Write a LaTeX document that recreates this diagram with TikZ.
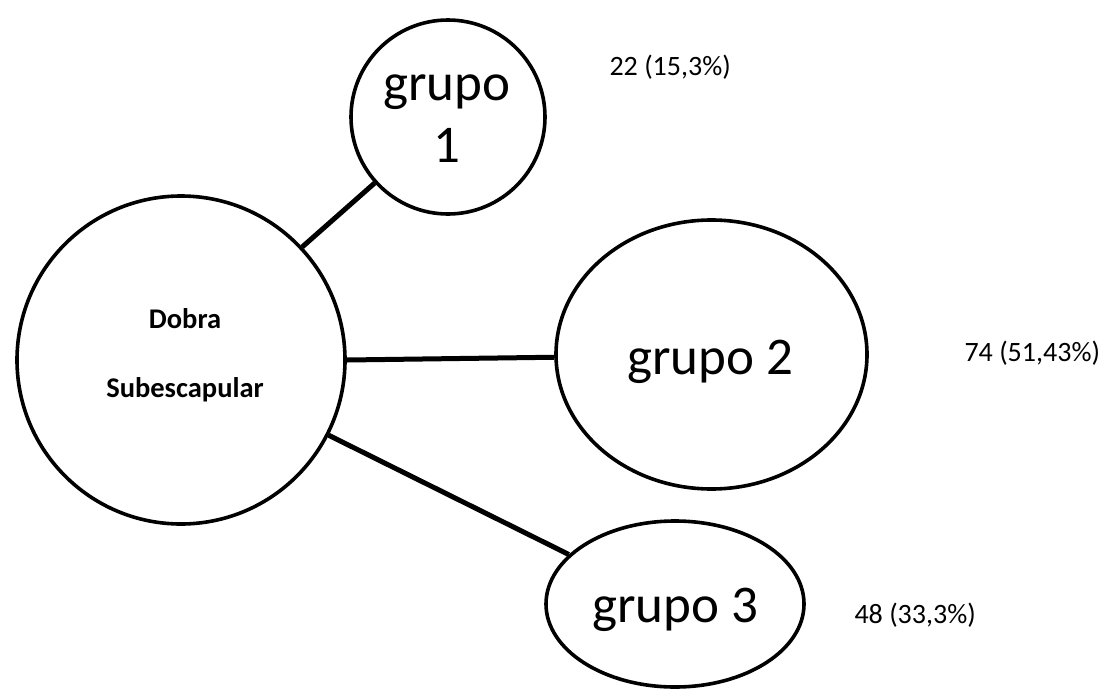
\documentclass[tikz,border=0pt]{standalone}
\usepackage{fontspec}
\setmainfont{Carlito}
\usetikzlibrary{shapes.geometric}
\begin{document}
\begin{tikzpicture}[x=1pt,y=-1pt,
  ring/.style={draw=black,line width=3.6pt,fill=white,inner sep=0pt},
  roundnode/.style={ring,circle},
  ovalnode/.style={ring,ellipse},
  link/.style={draw=black,line width=5pt},
  grouptext/.style={anchor=base,align=center,font=\fontsize{53}{62}\selectfont},
  counttext/.style={anchor=base west,font=\fontsize{28}{34}\selectfont}]
  \useasboundingbox (0,0) rectangle (1106,691);

  % circles and ellipses
  \node[roundnode,minimum size=328pt] (big) at (181,360) {};
  \node[roundnode,minimum size=194pt] (g1) at (448,117) {};
  \node[ovalnode,minimum width=311pt,minimum height=269pt] (g2) at (711.5,354.5) {};
  \node[ovalnode,minimum width=258pt,minimum height=166pt] (g3) at (675,604) {};

  % connectors
  \draw[link] (big.43) -- (g1.222);
  \draw[link] (big.0.7) -- (g2.181.5);
  \draw[link] (big.-27.3) -- (g3.155);

  % texts inside the shapes (base anchor = baseline of the last line)
  \node[anchor=base,align=center,font=\bfseries\fontsize{28.5}{69}\selectfont] (bigtext) at (185,397) {Dobra\\Subescapular};
  \node[grouptext] (g1text) at (447,162) {grupo\\1};
  \node[grouptext] (g2text) at (710,374) {grupo 2};
  \node[grouptext] (g3text) at (675,622) {grupo 3};

  % counts beside the groups
  \node[counttext] (c1) at (606,75) {22 (15,3\%)};
  \node[counttext] (c2) at (961,361) {74 (51,43\%)};
  \node[counttext] (c3) at (851,623) {48 (33,3\%)};
\end{tikzpicture}
\end{document}
